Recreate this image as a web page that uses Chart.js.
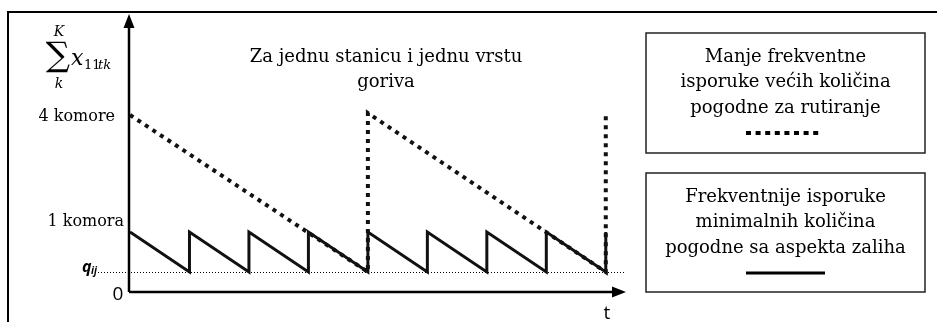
<!DOCTYPE html>
<html>
<head>
<meta charset="utf-8">
<script src="https://cdn.jsdelivr.net/npm/chart.js@4/dist/chart.umd.min.js"></script>
<style>
  html, body { margin: 0; padding: 0; background: #fff; }
  canvas { display: block; }
</style>
</head>
<body>
<canvas id="chart" width="937" height="322"></canvas>
<script>
// Sawtooth for frequent minimal deliveries (one tooth per time unit)
const solidX = [0, 1, 1, 2, 2, 3, 3, 4, 4, 5, 5, 6, 6, 7, 7, 8, 8];
const solidY = [3, 1, 3, 1, 3, 1, 3, 1, 3, 1, 3, 1, 3, 1, 3, 1, 3];

// Less frequent larger deliveries
const dottedX = [0, 4, 4, 8, 8];
const dottedY = [8.85, 1, 8.95, 1, 8.95];

// Safety level q_ij
const qLevel = 1;

// Y axis labels
const yTickValues = [8.85, 3, 0];
const yTickLabels = ['4 komore', '1 komora', '0'];

const titleLines = ['Za jednu stanicu i jednu vrstu', 'goriva'];
const legendDotted = ['Manje frekventne', 'isporuke većih količina', 'pogodne za rutiranje'];
const legendSolid = ['Frekventnije isporuke', 'minimalnih količina', 'pogodne sa aspekta zaliha'];

const SERIF = '"DejaVu Serif", "Liberation Serif", serif';
const SANS = '"Open Sans", "Liberation Sans", sans-serif';

function toPoints(xs, ys) {
    return xs.map((x, i) => ({ x: x, y: ys[i] }));
}

const decorPlugin = {
    id: 'decor',
    beforeDatasetsDraw(chart) {
        const ctx = chart.ctx;
        const ys = chart.scales.y;
        const area = chart.chartArea;

        // q_ij reference line
        const qy = ys.getPixelForValue(qLevel);
        ctx.save();
        ctx.strokeStyle = '#000';
        ctx.lineWidth = 1;
        ctx.setLineDash([1, 2]);
        ctx.beginPath();
        ctx.moveTo(95, qy + 0.5);
        ctx.lineTo(area.right - 2, qy + 0.5);
        ctx.stroke();
        ctx.restore();
    },
    afterDatasetsDraw(chart) {
        const ctx = chart.ctx;
        const xs = chart.scales.x;
        const ys = chart.scales.y;
        const area = chart.chartArea;
        const x0 = xs.getPixelForValue(0) - 1;
        const y0 = ys.getPixelForValue(0);
        const qy = ys.getPixelForValue(qLevel);

        ctx.save();
        ctx.fillStyle = '#000';
        ctx.strokeStyle = '#000';

        // outer frame (top and left edges)
        ctx.lineWidth = 2;
        ctx.beginPath();
        ctx.moveTo(8, 322);
        ctx.lineTo(8, 12);
        ctx.lineTo(937, 12);
        ctx.stroke();

        // axes
        ctx.lineWidth = 2.5;
        ctx.beginPath();
        ctx.moveTo(x0, y0);
        ctx.lineTo(x0, area.top + 10);
        ctx.moveTo(x0, y0);
        ctx.lineTo(area.right - 10, y0);
        ctx.stroke();
        // arrow heads
        ctx.beginPath();
        ctx.moveTo(x0, area.top);
        ctx.lineTo(x0 - 5.5, area.top + 14);
        ctx.lineTo(x0 + 5.5, area.top + 14);
        ctx.closePath();
        ctx.fill();
        ctx.beginPath();
        ctx.moveTo(area.right, y0);
        ctx.lineTo(area.right - 14, y0 - 5.5);
        ctx.lineTo(area.right - 14, y0 + 5.5);
        ctx.closePath();
        ctx.fill();

        // y labels
        ctx.textBaseline = 'middle';
        ctx.textAlign = 'right';
        ctx.font = '16px ' + SERIF;
        ctx.fillText(yTickLabels[0], 115, ys.getPixelForValue(yTickValues[0]) + 2);
        ctx.fillText(yTickLabels[1], 124, ys.getPixelForValue(yTickValues[1]) - 10);
        ctx.font = '19px ' + SANS;
        ctx.textAlign = 'center';
        ctx.fillText(yTickLabels[2], 118, y0 + 3);

        // q_ij label
        ctx.textAlign = 'left';
        ctx.textBaseline = 'alphabetic';
        ctx.font = 'italic bold 16px ' + SANS;
        ctx.fillText('q', 82, qy);
        ctx.font = 'italic bold 10px ' + SANS;
        ctx.fillText('ij', 91, qy + 2);

        // t label
        ctx.font = '19px ' + SANS;
        ctx.textAlign = 'center';
        ctx.textBaseline = 'middle';
        ctx.fillText('t', 607, 314);

        // sum symbol  sum_k^K x_11tk
        ctx.font = '34px ' + SERIF;
        ctx.textAlign = 'center';
        ctx.fillText('\u2211', 58, 57);
        ctx.font = 'italic 14px ' + SERIF;
        ctx.fillText('K', 59, 32);
        ctx.fillText('k', 59, 84);
        ctx.textAlign = 'left';
        ctx.textBaseline = 'alphabetic';
        ctx.font = 'italic 22px ' + SERIF;
        ctx.fillText('x', 71, 65);
        ctx.font = '13px ' + SERIF;
        ctx.fillText('11', 84, 69);
        ctx.font = 'italic 13px ' + SERIF;
        ctx.fillText('tk', 98, 69);

        // title
        ctx.font = '18px ' + SERIF;
        ctx.textAlign = 'center';
        ctx.textBaseline = 'middle';
        titleLines.forEach((line, i) => {
            ctx.fillText(line, 386, 57 + i * 25);
        });

        // legend boxes
        ctx.lineWidth = 1.5;
        ctx.strokeStyle = '#222';
        ctx.strokeRect(646, 33, 279, 120);
        ctx.strokeRect(646, 173, 279, 119);
        ctx.fillStyle = '#000';
        legendDotted.forEach((line, i) => {
            ctx.fillText(line, 785.5, 57 + i * 25.5);
        });
        legendSolid.forEach((line, i) => {
            ctx.fillText(line, 785.5, 197 + i * 25.5);
        });
        // legend samples
        ctx.strokeStyle = '#000';
        ctx.lineWidth = 4;
        ctx.setLineDash([5, 4.6]);
        ctx.beginPath();
        ctx.moveTo(746, 133);
        ctx.lineTo(822, 133);
        ctx.stroke();
        ctx.setLineDash([]);
        ctx.lineWidth = 3;
        ctx.beginPath();
        ctx.moveTo(746, 273);
        ctx.lineTo(825, 273);
        ctx.stroke();

        ctx.restore();
    }
};

new Chart(document.getElementById('chart'), {
    type: 'line',
    data: {
        datasets: [
            {
                label: 'Frekventnije isporuke',
                data: toPoints(solidX, solidY),
                borderColor: '#111',
                borderWidth: 3,
                pointRadius: 0,
                tension: 0,
                borderJoinStyle: 'miter'
            },
            {
                label: 'Manje frekventne isporuke',
                data: toPoints(dottedX, dottedY),
                borderColor: '#111',
                borderWidth: 4,
                borderDash: [4, 5],
                borderCapStyle: 'butt',
                pointRadius: 0,
                tension: 0
            }
        ]
    },
    options: {
        responsive: false,
        animation: false,
        devicePixelRatio: 1,
        layout: { padding: { left: 130, right: 311, top: 14, bottom: 30 } },
        plugins: {
            legend: { display: false },
            tooltip: { enabled: false }
        },
        scales: {
            x: { type: 'linear', min: 0, max: 8.34, display: false },
            y: { type: 'linear', min: 0, max: 13.9, display: false }
        }
    },
    plugins: [decorPlugin]
});
</script>
</body>
</html>
